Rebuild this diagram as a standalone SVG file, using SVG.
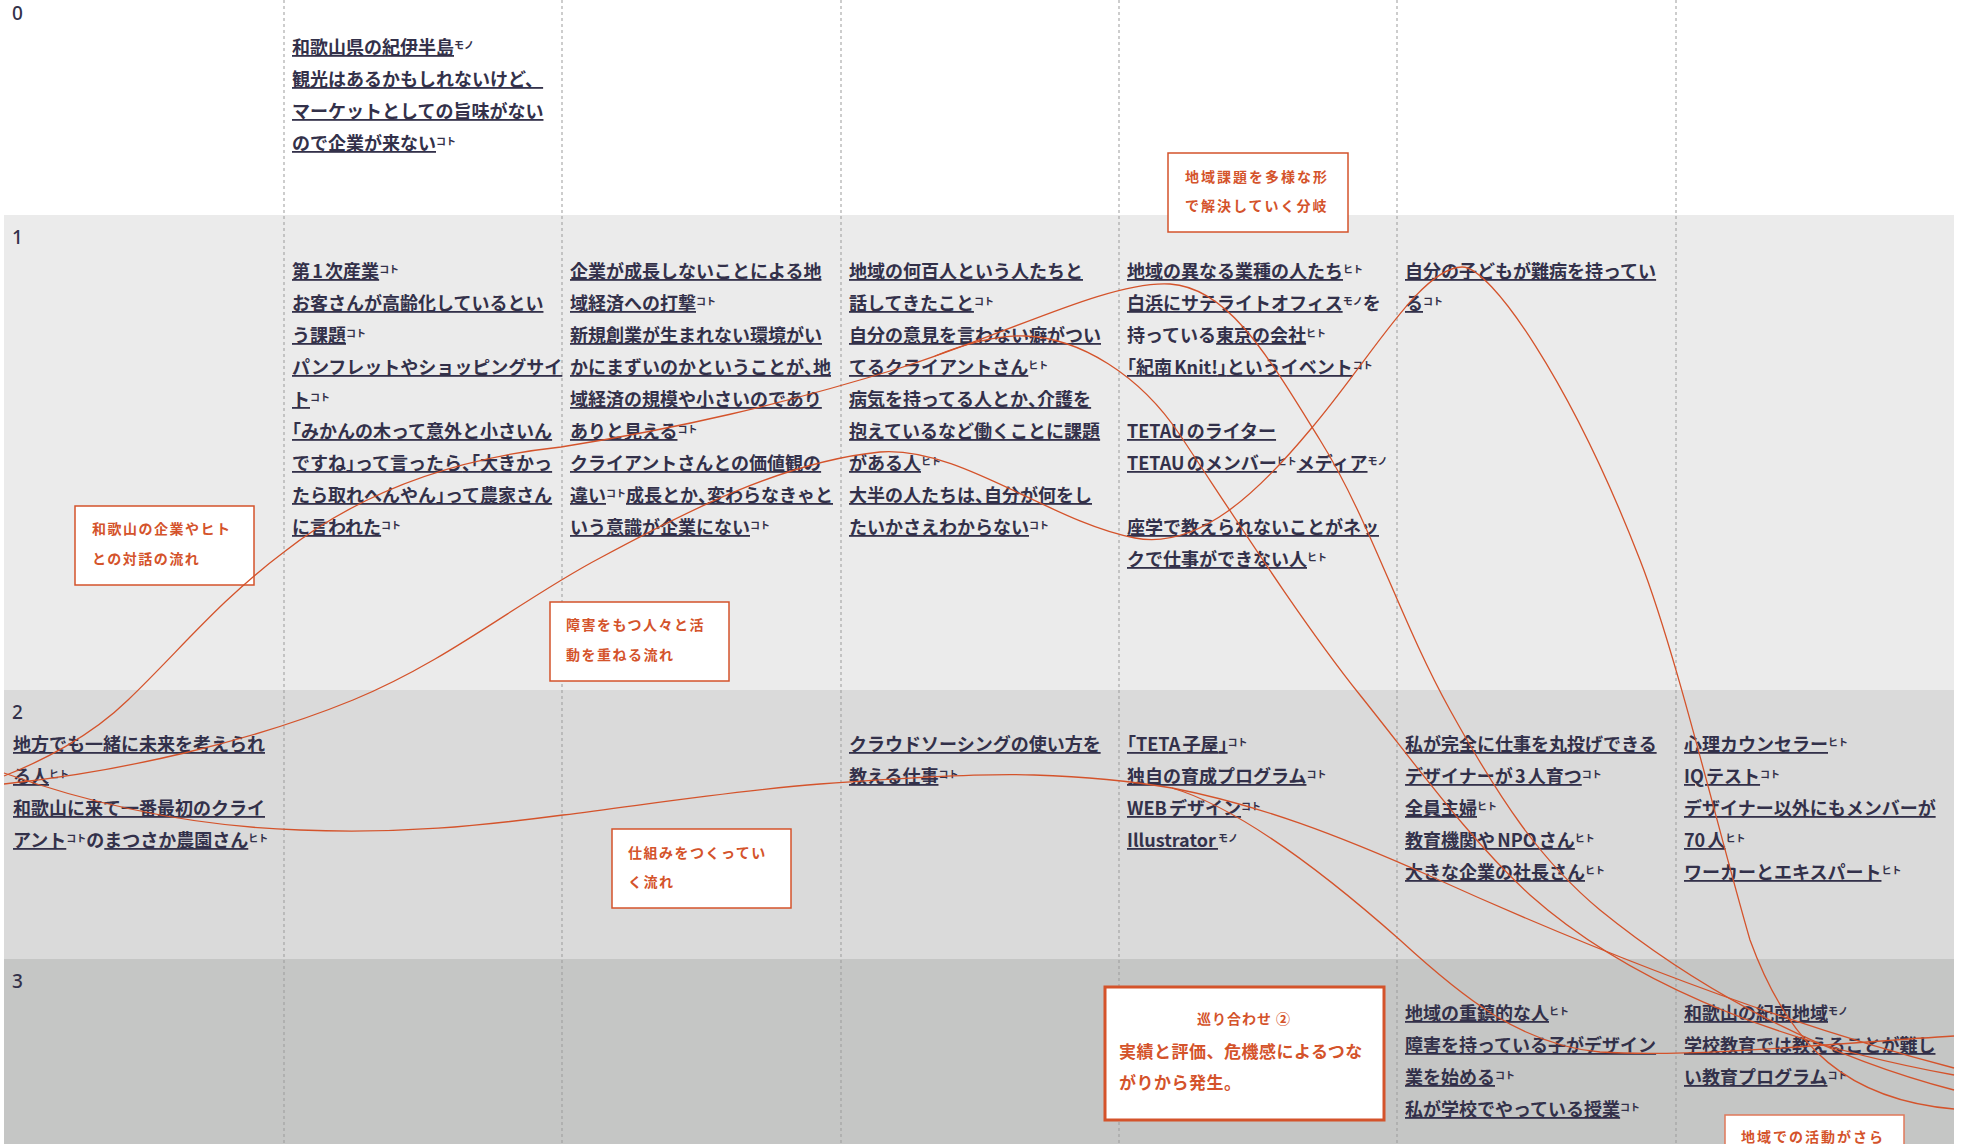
<svg xmlns="http://www.w3.org/2000/svg" width="1961" height="1144" viewBox="0 0 1961 1144">
<style>
.t{font-family:"Noto Sans CJK JP","Noto Sans",sans-serif;font-size:18px;font-weight:700;fill:#33314a;text-autospace:normal}
.u{text-decoration:underline;text-decoration-color:#7d7b90;text-decoration-thickness:2px}
.s{font-size:10px}
.h{font-feature-settings:"halt" 1}
.n{font-family:"Noto Sans","Noto Sans CJK JP",sans-serif;font-size:19px;font-weight:500;fill:#33314a}
.dv{stroke:#9b9b9b;stroke-width:1;stroke-dasharray:3 3}
.box{fill:#fff;stroke:#d4532b;stroke-width:1.5}
.bt{font-family:"Noto Sans CJK JP",sans-serif;font-size:14px;font-weight:700;fill:#d4532b;letter-spacing:1.5px}
.c{fill:none;stroke:#d4532b;stroke-width:1.3}
</style>
<g id="bands">
<rect x="4" y="0" width="1950" height="215" fill="#ffffff"/>
<rect x="4" y="215" width="1950" height="475" fill="#ebebeb"/>
<rect x="4" y="690" width="1950" height="269" fill="#dadada"/>
<rect x="4" y="959" width="1950" height="185" fill="#c5c6c5"/>
</g>
<g id="dividers">
<line class="dv" x1="284" y1="0" x2="284" y2="1144"/>
<line class="dv" x1="562" y1="0" x2="562" y2="1144"/>
<line class="dv" x1="841" y1="0" x2="841" y2="1144"/>
<line class="dv" x1="1119" y1="0" x2="1119" y2="1144"/>
<line class="dv" x1="1397" y1="0" x2="1397" y2="1144"/>
<line class="dv" x1="1676" y1="0" x2="1676" y2="1144"/>
</g>
<g id="row-numbers" class="n">
<text x="12" y="20">0</text>
<text x="12" y="244">1</text>
<text x="12" y="719">2</text>
<text x="12" y="988">3</text>
</g>
<g id="boxes">
<g id="box-bunki"><rect class="box" x="1168" y="153" width="180" height="79"/>
<text class="bt" x="1185" y="182" style="letter-spacing:2px">地域課題を多様な形</text>
<text class="bt" x="1185" y="211" style="letter-spacing:2px">で解決していく分岐</text></g>
<g id="box-taiwa"><rect class="box" x="75" y="506" width="179" height="79"/>
<text class="bt" x="92" y="534">和歌山の企業やヒト</text>
<text class="bt" x="92" y="564">との対話の流れ</text></g>
<g id="box-shogai"><rect class="box" x="550" y="602" width="179" height="79"/>
<text class="bt" x="566" y="630">障害をもつ人々と活</text>
<text class="bt" x="566" y="660">動を重ねる流れ</text></g>
<g id="box-shikumi"><rect class="box" x="612" y="829" width="179" height="79"/>
<text class="bt" x="628" y="858">仕組みをつくってい</text>
<text class="bt" x="628" y="887">く流れ</text></g>
<g id="box-meguri"><rect class="box" x="1105" y="987" width="279" height="133" style="stroke-width:3"/>
<text class="bt" x="1244" y="1024" text-anchor="middle" style="letter-spacing:1px">巡り合わせ ②</text>
<text class="bt" x="1119" y="1058" style="font-size:17px;letter-spacing:0.5px">実績と評価、危機感によるつな</text>
<text class="bt" x="1119" y="1089" style="font-size:17px;letter-spacing:0.5px">がりから発生。</text></g>
<g id="box-chiiki"><rect class="box" x="1725" y="1115" width="179" height="60" style="stroke:#e0785a"/>
<text class="bt" x="1741" y="1142" style="letter-spacing:2px">地域での活動がさら</text></g>
</g>
<g id="node-r0c1" class="t">
<text x="292" y="54"><tspan class="u">和歌山県の紀伊半島</tspan><tspan class="s" dy="-5">モノ</tspan></text>
<text x="292" y="86"><tspan class="u">観光はあるかもしれないけど、</tspan></text>
<text x="292" y="118"><tspan class="u">マーケットとしての旨味がない</tspan></text>
<text x="292" y="150"><tspan class="u">ので企業が来ない</tspan><tspan class="s" dy="-5">コト</tspan></text>
</g>
<g id="node-r1c1" class="t">
<text x="292" y="278"><tspan class="u">第1次産業</tspan><tspan class="s" dy="-5">コト</tspan></text>
<text x="292" y="310"><tspan class="u">お客さんが高齢化しているとい</tspan></text>
<text x="292" y="342"><tspan class="u">う課題</tspan><tspan class="s" dy="-5">コト</tspan></text>
<text x="292" y="374"><tspan class="u">パンフレットやショッピングサイ</tspan></text>
<text x="292" y="406"><tspan class="u">ト</tspan><tspan class="s" dy="-5">コト</tspan></text>
<text x="292" y="438"><tspan class="u"><tspan class="h">「</tspan>みかんの木って意外と小さいん</tspan></text>
<text x="292" y="470"><tspan class="u">ですね<tspan class="h">」</tspan>って言ったら<tspan class="h">、「</tspan>大きかっ</tspan></text>
<text x="292" y="502"><tspan class="u">たら取れへんやん<tspan class="h">」</tspan>って農家さん</tspan></text>
<text x="292" y="534"><tspan class="u">に言われた</tspan><tspan class="s" dy="-5">コト</tspan></text>
</g>
<g id="node-r1c2" class="t">
<text x="570" y="278"><tspan class="u">企業が成長しないことによる地</tspan></text>
<text x="570" y="310"><tspan class="u">域経済への打撃</tspan><tspan class="s" dy="-5">コト</tspan></text>
<text x="570" y="342"><tspan class="u">新規創業が生まれない環境がい</tspan></text>
<text x="570" y="374"><tspan class="u">かにまずいのかということが<tspan class="h">、</tspan>地</tspan></text>
<text x="570" y="406"><tspan class="u">域経済の規模や小さいのであり</tspan></text>
<text x="570" y="438"><tspan class="u">ありと見える</tspan><tspan class="s" dy="-5">コト</tspan></text>
<text x="570" y="470"><tspan class="u">クライアントさんとの価値観の</tspan></text>
<text x="570" y="502"><tspan class="u">違い</tspan><tspan class="s" dy="-5">コト</tspan><tspan class="u" dy="5">成長とか<tspan class="h">、</tspan>変わらなきゃと</tspan></text>
<text x="570" y="534"><tspan class="u">いう意識が企業にない</tspan><tspan class="s" dy="-5">コト</tspan></text>
</g>
<g id="node-r1c3" class="t">
<text x="849" y="278"><tspan class="u">地域の何百人という人たちと</tspan></text>
<text x="849" y="310"><tspan class="u">話してきたこと</tspan><tspan class="s" dy="-5">コト</tspan></text>
<text x="849" y="342"><tspan class="u">自分の意見を言わない癖がつい</tspan></text>
<text x="849" y="374"><tspan class="u">てるクライアントさん</tspan><tspan class="s" dy="-5">ヒト</tspan></text>
<text x="849" y="406"><tspan class="u">病気を持ってる人とか<tspan class="h">、</tspan>介護を</tspan></text>
<text x="849" y="438"><tspan class="u">抱えているなど働くことに課題</tspan></text>
<text x="849" y="470"><tspan class="u">がある人</tspan><tspan class="s" dy="-5">ヒト</tspan></text>
<text x="849" y="502"><tspan class="u">大半の人たちは<tspan class="h">、</tspan>自分が何をし</tspan></text>
<text x="849" y="534"><tspan class="u">たいかさえわからない</tspan><tspan class="s" dy="-5">コト</tspan></text>
</g>
<g id="node-r1c4" class="t">
<text x="1127" y="278"><tspan class="u">地域の異なる業種の人たち</tspan><tspan class="s" dy="-5">ヒト</tspan></text>
<text x="1127" y="310"><tspan class="u">白浜にサテライトオフィス</tspan><tspan class="s" dy="-5">モノ</tspan><tspan dy="5">を</tspan></text>
<text x="1127" y="342"><tspan>持っている</tspan><tspan class="u">東京の会社</tspan><tspan class="s" dy="-5">ヒト</tspan></text>
<text x="1127" y="374"><tspan class="u"><tspan class="h">「</tspan>紀南Knit!<tspan class="h">」</tspan>というイベント</tspan><tspan class="s" dy="-5">コト</tspan></text>
<text x="1127" y="438"><tspan class="u">TETAUのライター</tspan></text>
<text x="1127" y="470"><tspan class="u">TETAUのメンバー</tspan><tspan class="s" dy="-5">ヒト</tspan><tspan class="u" dy="5">メディア</tspan><tspan class="s" dy="-5">モノ</tspan></text>
<text x="1127" y="534"><tspan class="u">座学で教えられないことがネッ</tspan></text>
<text x="1127" y="566"><tspan class="u">クで仕事ができない人</tspan><tspan class="s" dy="-5">ヒト</tspan></text>
</g>
<g id="node-r1c5" class="t">
<text x="1405" y="278"><tspan class="u">自分の子どもが難病を持ってい</tspan></text>
<text x="1405" y="310"><tspan class="u">る</tspan><tspan class="s" dy="-5">コト</tspan></text>
</g>
<g id="node-r2c0" class="t">
<text x="13" y="751"><tspan class="u">地方でも一緒に未来を考えられ</tspan></text>
<text x="13" y="783"><tspan class="u">る人</tspan><tspan class="s" dy="-5">ヒト</tspan></text>
<text x="13" y="815"><tspan class="u">和歌山に来て一番最初のクライ</tspan></text>
<text x="13" y="847"><tspan class="u">アント</tspan><tspan class="s" dy="-5">コト</tspan><tspan dy="5">の</tspan><tspan class="u">まつさか農園さん</tspan><tspan class="s" dy="-5">ヒト</tspan></text>
</g>
<g id="node-r2c3" class="t">
<text x="849" y="751"><tspan class="u">クラウドソーシングの使い方を</tspan></text>
<text x="849" y="783"><tspan class="u">教える仕事</tspan><tspan class="s" dy="-5">コト</tspan></text>
</g>
<g id="node-r2c4" class="t">
<text x="1127" y="751"><tspan class="u"><tspan class="h">「</tspan>TETA子屋<tspan class="h">」</tspan></tspan><tspan class="s" dy="-5">コト</tspan></text>
<text x="1127" y="783"><tspan class="u">独自の育成プログラム</tspan><tspan class="s" dy="-5">コト</tspan></text>
<text x="1127" y="815"><tspan class="u">WEBデザイン</tspan><tspan class="s" dy="-5">コト</tspan></text>
<text x="1127" y="847"><tspan class="u">Illustrator</tspan><tspan class="s" dy="-5">モノ</tspan></text>
</g>
<g id="node-r2c5" class="t">
<text x="1405" y="751"><tspan class="u">私が完全に仕事を丸投げできる</tspan></text>
<text x="1405" y="783"><tspan class="u">デザイナーが3人育つ</tspan><tspan class="s" dy="-5">コト</tspan></text>
<text x="1405" y="815"><tspan class="u">全員主婦</tspan><tspan class="s" dy="-5">ヒト</tspan></text>
<text x="1405" y="847"><tspan class="u">教育機関やNPOさん</tspan><tspan class="s" dy="-5">ヒト</tspan></text>
<text x="1405" y="879"><tspan class="u">大きな企業の社長さん</tspan><tspan class="s" dy="-5">ヒト</tspan></text>
</g>
<g id="node-r2c6" class="t">
<text x="1684" y="751"><tspan class="u">心理カウンセラー</tspan><tspan class="s" dy="-5">ヒト</tspan></text>
<text x="1684" y="783"><tspan class="u">IQテスト</tspan><tspan class="s" dy="-5">コト</tspan></text>
<text x="1684" y="815"><tspan class="u">デザイナー以外にもメンバーが</tspan></text>
<text x="1684" y="847"><tspan class="u">70人</tspan><tspan class="s" dy="-5">ヒト</tspan></text>
<text x="1684" y="879"><tspan class="u">ワーカーとエキスパート</tspan><tspan class="s" dy="-5">ヒト</tspan></text>
</g>
<g id="node-r3c5" class="t">
<text x="1405" y="1020"><tspan class="u">地域の重鎮的な人</tspan><tspan class="s" dy="-5">ヒト</tspan></text>
<text x="1405" y="1052"><tspan class="u">障害を持っている子がデザイン</tspan></text>
<text x="1405" y="1084"><tspan class="u">業を始める</tspan><tspan class="s" dy="-5">コト</tspan></text>
<text x="1405" y="1116"><tspan class="u">私が学校でやっている授業</tspan><tspan class="s" dy="-5">コト</tspan></text>
</g>
<g id="node-r3c6" class="t">
<text x="1684" y="1020"><tspan class="u">和歌山の紀南地域</tspan><tspan class="s" dy="-5">モノ</tspan></text>
<text x="1684" y="1052"><tspan class="u">学校教育では教えることが難し</tspan></text>
<text x="1684" y="1084"><tspan class="u">い教育プログラム</tspan><tspan class="s" dy="-5">コト</tspan></text>
</g>
<g id="connectors">
<path id="flow-taiwa" class="c" d="M 4 776 C 40 762, 90 737, 128 700 C 180 650, 220 600, 284 552 C 350 500, 440 460, 561 447 C 680 428, 780 405, 900 368 C 1000 337, 1110 280, 1170 284 C 1230 288, 1270 360, 1320 440 C 1370 520, 1400 620, 1450 710 C 1500 800, 1540 860, 1600 910 C 1680 975, 1800 1050, 1954 1090"/>
<path id="flow-taiwa-branch" class="c" d="M 935 356 C 965 344, 995 335, 1025 336 C 1080 338, 1140 375, 1180 435 C 1230 510, 1300 620, 1360 695 C 1420 770, 1470 840, 1530 895 C 1620 975, 1760 1040, 1954 1075"/>
<path id="flow-shogai" class="c" d="M 4 784 C 120 772, 250 742, 353 700 C 450 660, 520 600, 600 558 C 680 515, 780 462, 880 452 C 960 446, 1050 522, 1135 538 C 1200 550, 1260 490, 1310 430 C 1370 360, 1420 268, 1462 267 C 1490 266, 1570 380, 1640 560 C 1676 652, 1718 830, 1750 940 C 1790 1050, 1850 1100, 1954 1109"/>
<path id="flow-shikumi" class="c" d="M 4 773 C 80 800, 180 826, 300 830 C 400 834, 480 826, 563 815 C 650 804, 740 790, 820 784 C 900 778, 980 773, 1034 775 C 1090 777, 1130 781, 1172 788"/>
<path id="flow-shikumi-a" class="c" d="M 1172 788 C 1240 808, 1330 878, 1400 940 C 1460 995, 1520 1045, 1600 1052 C 1700 1058, 1850 1042, 1954 1036"/>
<path id="flow-shikumi-b" class="c" d="M 1172 788 C 1260 805, 1340 836, 1430 876 C 1560 935, 1750 1015, 1954 1068"/>
</g>
</svg>
